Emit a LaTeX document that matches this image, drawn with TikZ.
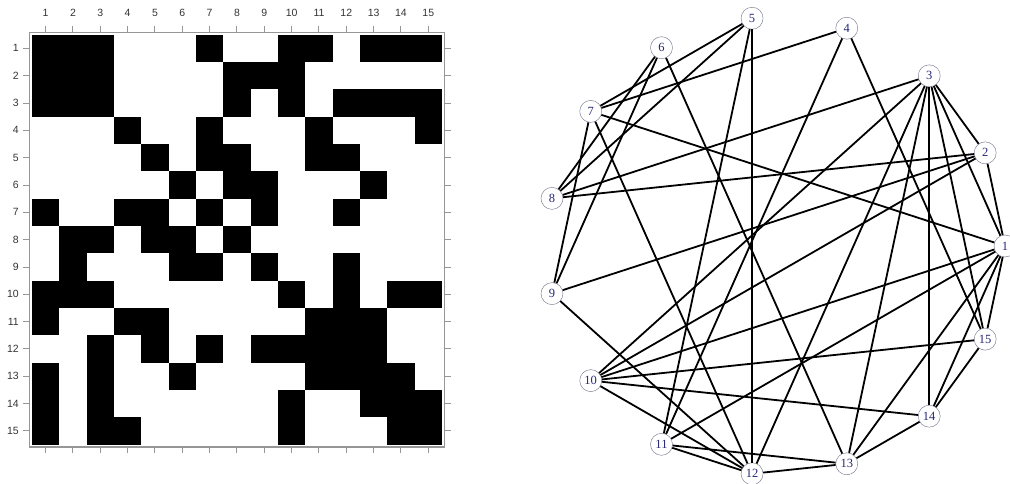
\documentclass[tikz,border=0pt]{standalone}
\usepackage{fontspec}
\setmainfont{Liberation Serif}
\setsansfont{Liberation Sans}
\definecolor{labelblue}{RGB}{40,40,120}
\definecolor{ringgray}{RGB}{110,110,135}
\definecolor{framegray}{RGB}{150,150,150}
\tikzset{
  vertex/.style={circle,draw=ringgray,fill=white,thin,inner sep=0pt,minimum size=22pt,
    text=labelblue,font=\fontsize{12.5}{12.5}\selectfont},
  axislabel/.style={inner sep=0pt,text=black!80,font=\sffamily\fontsize{10.5}{11}\selectfont},
  link/.style={line width=1.8pt},
  tick/.style={framegray,line width=1pt}
}
\begin{document}
\begin{tikzpicture}[x=1pt,y=-1pt]
\useasboundingbox (0,0) rectangle (1010,484);
% adjacency matrix, one list of black cells per row
\foreach \row [count=\i] in {{1,2,3,7,10,11,13,14,15},{1,2,3,8,9,10},{1,2,3,8,10,12,13,14,15},
  {4,7,11,15},{5,7,8,11,12},{6,8,9,13},{1,4,5,7,9,12},{2,3,5,6,8},{2,6,7,9,12},
  {1,2,3,10,12,14,15},{1,4,5,11,12,13},{3,5,7,9,10,11,12,13},{1,3,6,11,12,13,14},
  {1,3,10,13,14,15},{1,3,4,10,14,15}}
  \foreach \j in \row
    \fill ({32+27.33*(\j-1)},{34.7+27.33*(\i-1)}) rectangle +(27.33,27.33);
\draw [framegray,line width=1.3pt] (29.5,32.5) rectangle (444.5,447);
\foreach \k in {1,...,15} {
  \draw [tick] ({32+27.33*(\k-0.5)},26) -- +(0,6.5);
  \node [axislabel] (top\k) at ({32+27.33*(\k-0.5)},13) {\k};
  \draw [tick] ({32+27.33*(\k-0.5)},447) -- +(0,6);
  \draw [tick] (22.7,{34.7+27.33*(\k-0.5)}) -- (29.5,{34.7+27.33*(\k-0.5)});
  \draw [tick] (444.5,{34.7+27.33*(\k-0.5)}) -- +(6,0);
  \node [axislabel,anchor=east] (left\k) at (19,{34.7+27.33*(\k-0.5)}) {\k};
}
% circular layout of the graph
\foreach \k in {1,...,15}
  \node [vertex] (n\k) at ({776+229*cos(24*(\k-1))},{246-229*sin(24*(\k-1))}) {\k};
\foreach \a/\b in {1/2,1/3,1/7,1/10,1/11,1/13,1/14,1/15,2/3,2/8,2/9,2/10,
  3/8,3/10,3/12,3/13,3/14,3/15,4/7,4/11,4/15,5/7,5/8,5/11,5/12,6/8,6/9,6/13,
  7/9,7/12,9/12,10/12,10/14,10/15,11/12,11/13,12/13,13/14,14/15}
  \draw [link] (n\a) -- (n\b);
\end{tikzpicture}
\end{document}
